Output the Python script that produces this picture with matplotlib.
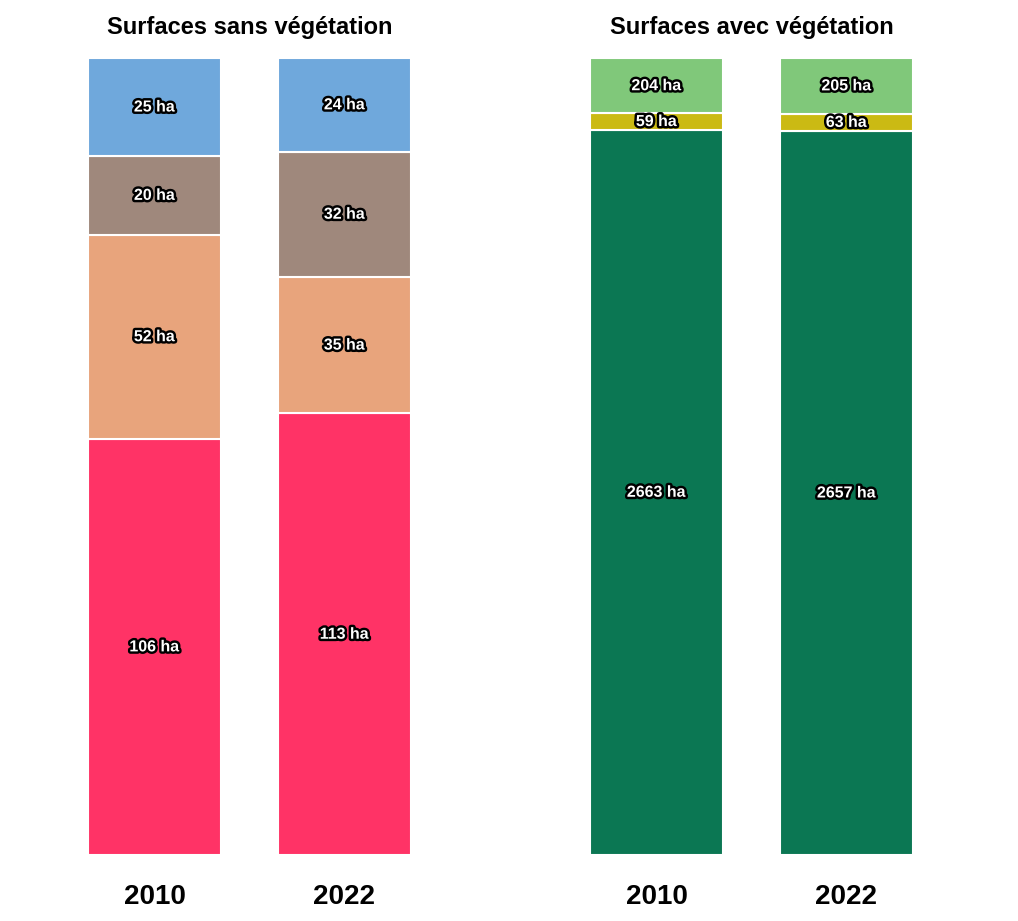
import matplotlib.pyplot as plt
import matplotlib.patheffects as pe
import numpy as np

plt.rcParams['font.family'] = ['Liberation Sans', 'DejaVu Sans']

years = ['2010', '2022']

# Surfaces sans végétation (bas -> haut)
sans_rouge = [106, 113]
sans_orange = [52, 35]
sans_brun = [20, 32]
sans_bleu = [25, 24]

# Surfaces avec végétation (bas -> haut)
avec_vert_fonce = [2663, 2657]
avec_jaune = [59, 63]
avec_vert_clair = [204, 205]

fig = plt.figure(figsize=(10.18, 9.21), dpi=100)


def stacked(ax, series, colors, title):
    series = np.array(series, dtype=float)
    totals = series.sum(axis=0)
    x = np.arange(len(years))
    bottom = np.zeros(len(years))
    for vals, col in zip(series, colors):
        frac = vals / totals
        ax.bar(x, frac, bottom=bottom, width=0.7, color=col,
               edgecolor='white', linewidth=1.5)
        for xi, f, b, v in zip(x, frac, bottom, vals):
            ax.text(xi, b + f / 2, f'{int(v)} ha', ha='center', va='center',
                    color='white', fontsize=11.5, fontweight='bold',
                    path_effects=[pe.withStroke(linewidth=3.5, foreground='black')])
        bottom += frac
    ax.set_xlim(-0.35, 1.35)
    ax.set_ylim(0, 1)
    ax.set_xticks(x)
    ax.set_xticklabels(years, fontsize=20, fontweight='bold')
    ax.tick_params(axis='x', length=0, pad=21)
    ax.set_yticks([])
    for s in ax.spines.values():
        s.set_visible(False)
    ax.set_title(title, fontsize=17, fontweight='bold', pad=17)


ax1 = fig.add_axes([88 / 1018, 0.0717, 323 / 1018, 0.8654])
stacked(ax1, [sans_rouge, sans_orange, sans_brun, sans_bleu],
        ['#ff3366', '#e8a47c', '#9f887c', '#6fa8dc'],
        'Surfaces sans végétation')

ax2 = fig.add_axes([590 / 1018, 0.0717, 323 / 1018, 0.8654])
stacked(ax2, [avec_vert_fonce, avec_jaune, avec_vert_clair],
        ['#0b7753', '#cbba13', '#80c87a'],
        'Surfaces avec végétation')

plt.savefig('out.png', dpi=100)
